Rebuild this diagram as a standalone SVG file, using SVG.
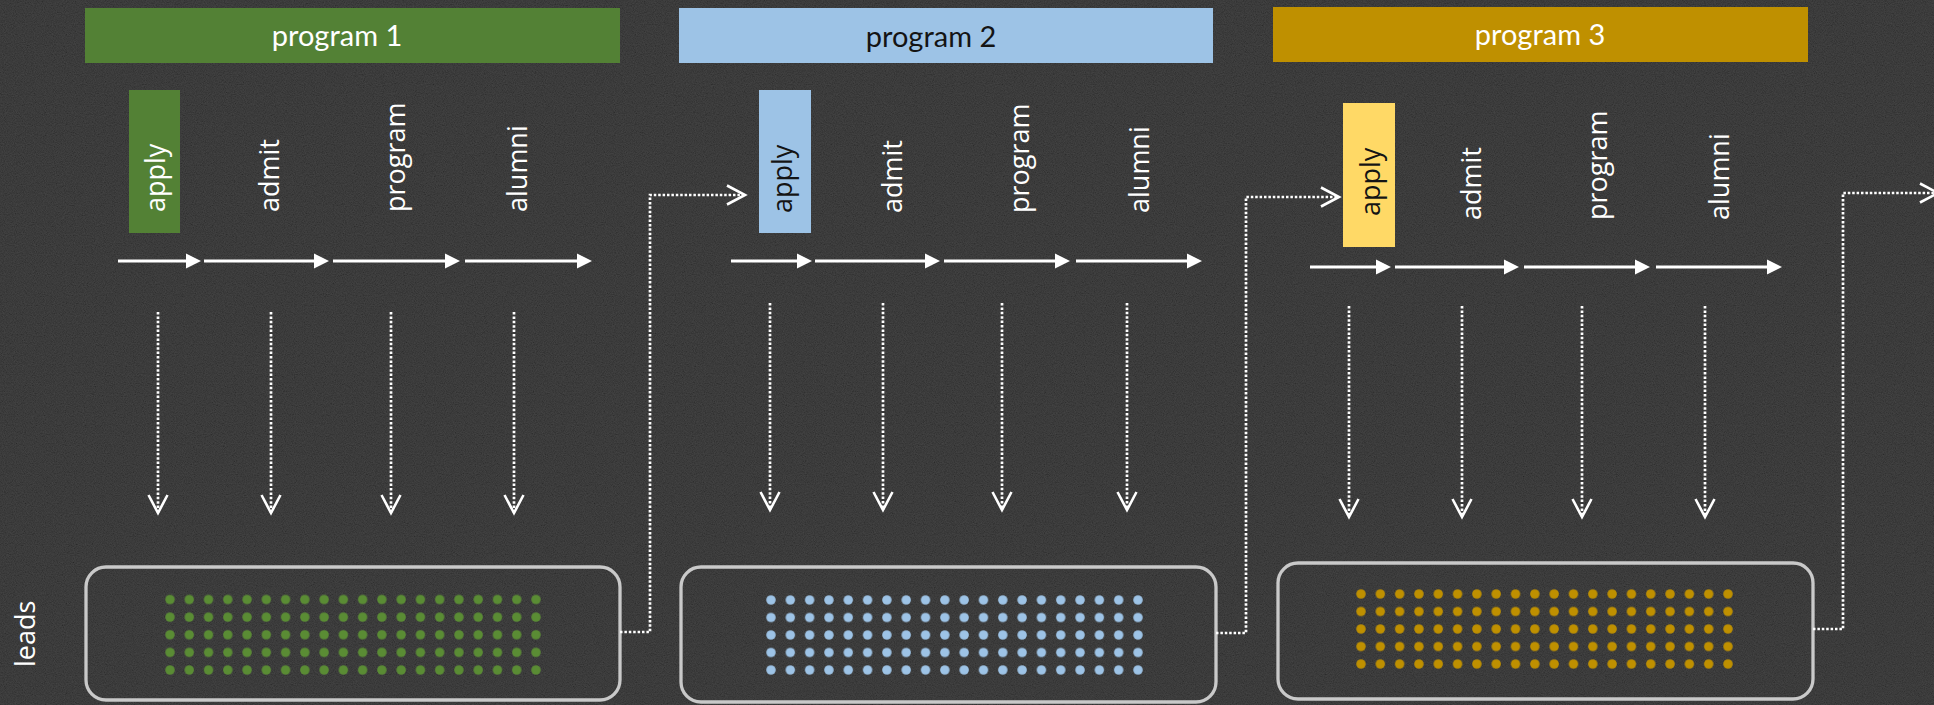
<svg xmlns="http://www.w3.org/2000/svg" width="1934" height="705" viewBox="0 0 1934 705">
  <defs>
    <style>
      .hdr { font-family: "Lato", "Open Sans", "Liberation Sans", sans-serif; font-size: 29px; text-anchor: middle; }
      .lbl { font-family: "Open Sans", "DejaVu Sans", sans-serif; font-size: 27px; fill: #ffffff; }
      .dark { fill: #141414; }
      .flow { stroke: #ffffff; stroke-width: 3; fill: none; marker-end: url(#tri); }
      .dotted { stroke: #ffffff; stroke-width: 2.7; stroke-dasharray: 2.5 1.9; fill: none; }
      .down { marker-end: url(#chev); }
      .leads { fill: none; stroke: #c9c9c9; stroke-width: 3.3; }
    </style>
    <marker id="tri" markerUnits="userSpaceOnUse" markerWidth="16" markerHeight="16" refX="10" refY="7.5" orient="auto" overflow="visible">
      <path d="M0,0 L15,7.5 L0,15 Z" fill="#ffffff"/>
    </marker>
    <marker id="chev" markerUnits="userSpaceOnUse" markerWidth="22" markerHeight="22" refX="19" refY="10" orient="auto" overflow="visible">
      <path d="M1,0.5 L19,10 L1,19.5" fill="none" stroke="#ffffff" stroke-width="2.6"/>
    </marker>
    <pattern id="dotsG" patternUnits="userSpaceOnUse" x="160.37" y="590.7" width="19.263" height="17.625">
      <circle cx="9.63" cy="8.81" r="4.7" fill="#5a8c34"/>
    </pattern>
    <pattern id="dotsB" patternUnits="userSpaceOnUse" x="761.34" y="591.25" width="19.316" height="17.5">
      <circle cx="9.66" cy="8.75" r="4.7" fill="#9dc3e6"/>
    </pattern>
    <pattern id="dotsY" patternUnits="userSpaceOnUse" x="1351.34" y="585.25" width="19.316" height="17.5">
      <circle cx="9.66" cy="8.75" r="4.7" fill="#bf9000"/>
    </pattern>
    <filter id="noise" x="0" y="0" width="100%" height="100%">
      <feTurbulence type="fractalNoise" baseFrequency="0.9" numOctaves="3" seed="7" result="n"/>
      <feColorMatrix in="n" type="matrix" values="1 0 0 0 0  1 0 0 0 0  1 0 0 0 0  0 0 0 0 0.16"/>
    </filter>
  </defs>

  <g id="background">
    <rect x="0" y="0" width="1934" height="705" fill="#232323"/>
    <rect x="0" y="0" width="1934" height="705" filter="url(#noise)"/>
  </g>

  <text id="leads-label" class="lbl" font-size="26" transform="translate(35,667) rotate(-90)">leads</text>

  <!-- Panel 1 -->
  <g id="program1">
    <g id="p1-header">
      <rect x="85" y="8" width="535" height="55" fill="#538135"/>
      <text class="hdr" x="337" y="46" fill="#ffffff">program 1</text>
    </g>
    <g id="p1-apply">
      <rect x="129" y="90" width="51" height="143" fill="#538135"/>
      <text class="lbl" transform="translate(164.5,212) rotate(-90)">apply</text>
    </g>
    <g id="p1-admit"><text class="lbl" transform="translate(279,212) rotate(-90)">admit</text></g>
    <g id="p1-program"><text class="lbl" transform="translate(405,212) rotate(-90)">program</text></g>
    <g id="p1-alumni"><text class="lbl" transform="translate(527,212) rotate(-90)">alumni</text></g>
    <g id="p1-leads">
      <rect class="leads" x="86" y="567" width="534" height="133" rx="20"/>
      <rect x="160.37" y="590.7" width="385.26" height="88.13" fill="url(#dotsG)"/>
    </g>
  </g>

  <!-- Panel 2 -->
  <g id="program2">
    <g id="p2-header">
      <rect x="679" y="8" width="534" height="55" fill="#9dc3e6"/>
      <text class="hdr" x="931" y="46.5" fill="#141414">program 2</text>
    </g>
    <g id="p2-apply">
      <rect x="759" y="90" width="52" height="143" fill="#9dc3e6"/>
      <text class="lbl dark" transform="translate(792,213) rotate(-90)">apply</text>
    </g>
    <g id="p2-admit"><text class="lbl" transform="translate(902,213) rotate(-90)">admit</text></g>
    <g id="p2-program"><text class="lbl" transform="translate(1029,213) rotate(-90)">program</text></g>
    <g id="p2-alumni"><text class="lbl" transform="translate(1149,213) rotate(-90)">alumni</text></g>
    <g id="p2-leads">
      <rect class="leads" x="681" y="567" width="535" height="135" rx="20"/>
      <rect x="761.34" y="591.25" width="386.32" height="87.5" fill="url(#dotsB)"/>
    </g>
  </g>

  <!-- Panel 3 -->
  <g id="program3">
    <g id="p3-header">
      <rect x="1273" y="7" width="535" height="55" fill="#bf9000"/>
      <text class="hdr" x="1540" y="44.5" fill="#ffffff">program 3</text>
    </g>
    <g id="p3-apply">
      <rect x="1343" y="103" width="52" height="144" fill="#ffd966"/>
      <text class="lbl dark" transform="translate(1380,216) rotate(-90)">apply</text>
    </g>
    <g id="p3-admit"><text class="lbl" transform="translate(1481,220) rotate(-90)">admit</text></g>
    <g id="p3-program"><text class="lbl" transform="translate(1607,220) rotate(-90)">program</text></g>
    <g id="p3-alumni"><text class="lbl" transform="translate(1729,220) rotate(-90)">alumni</text></g>
    <g id="p3-leads">
      <rect class="leads" x="1278" y="563" width="535" height="136" rx="20"/>
      <rect x="1351.34" y="585.25" width="386.32" height="87.5" fill="url(#dotsY)"/>
    </g>
  </g>

  <g id="connectors">
    <!-- stage flow arrows -->
    <line class="flow" x1="118" y1="261" x2="196" y2="261"/>
    <line class="flow" x1="204" y1="261" x2="324" y2="261"/>
    <line class="flow" x1="333" y1="261" x2="455" y2="261"/>
    <line class="flow" x1="465" y1="261" x2="587" y2="261"/>

    <line class="flow" x1="731" y1="261" x2="807" y2="261"/>
    <line class="flow" x1="815" y1="261" x2="935" y2="261"/>
    <line class="flow" x1="944" y1="261" x2="1065" y2="261"/>
    <line class="flow" x1="1076" y1="261" x2="1197" y2="261"/>

    <line class="flow" x1="1310" y1="267" x2="1386" y2="267"/>
    <line class="flow" x1="1395" y1="267" x2="1514" y2="267"/>
    <line class="flow" x1="1524" y1="267" x2="1645" y2="267"/>
    <line class="flow" x1="1656" y1="267" x2="1777" y2="267"/>

    <!-- dotted down arrows -->
    <line class="dotted down" x1="158" y1="312" x2="158" y2="513"/>
    <line class="dotted down" x1="271" y1="312" x2="271" y2="513"/>
    <line class="dotted down" x1="391" y1="312" x2="391" y2="513"/>
    <line class="dotted down" x1="514" y1="312" x2="514" y2="513"/>

    <line class="dotted down" x1="770" y1="303" x2="770" y2="510"/>
    <line class="dotted down" x1="883" y1="303" x2="883" y2="510"/>
    <line class="dotted down" x1="1002" y1="303" x2="1002" y2="510"/>
    <line class="dotted down" x1="1127" y1="303" x2="1127" y2="510"/>

    <line class="dotted down" x1="1349" y1="306" x2="1349" y2="517"/>
    <line class="dotted down" x1="1462" y1="306" x2="1462" y2="517"/>
    <line class="dotted down" x1="1582" y1="306" x2="1582" y2="517"/>
    <line class="dotted down" x1="1705" y1="306" x2="1705" y2="517"/>

    <!-- leads to next program -->
    <path class="dotted down" d="M620,632 H650 V195 H745"/>
    <path class="dotted down" d="M1216,633 H1246 V197 H1339"/>
    <path class="dotted down" d="M1813,629 H1843 V193 H1938"/>
  </g>
</svg>
